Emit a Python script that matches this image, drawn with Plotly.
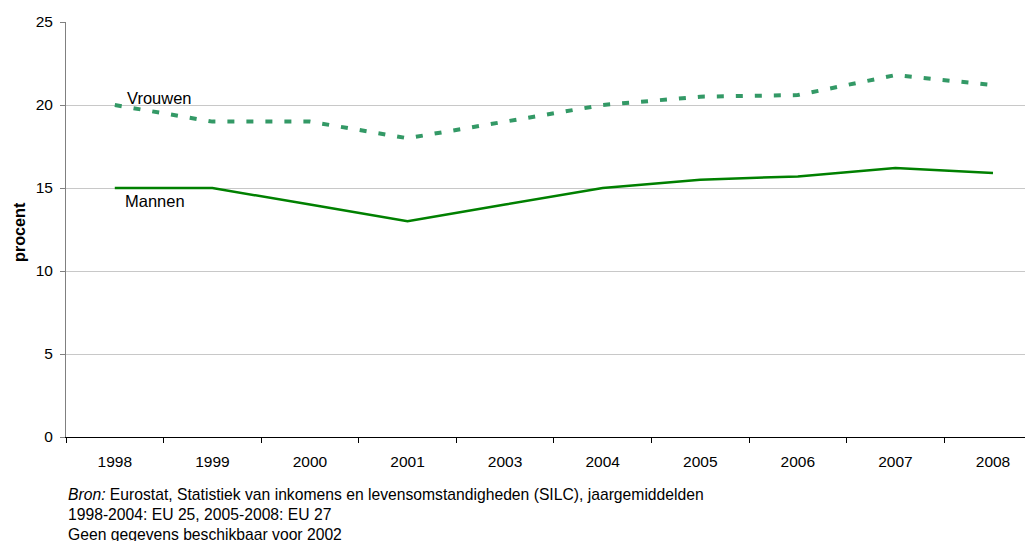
import plotly.graph_objects as go

years = ["1998", "1999", "2000", "2001", "2003", "2004", "2005", "2006", "2007", "2008"]
vrouwen = [20.0, 19.0, 19.0, 18.0, 19.0, 20.0, 20.5, 20.6, 21.8, 21.2]
mannen = [15.0, 15.0, 14.0, 13.0, 14.0, 15.0, 15.5, 15.7, 16.2, 15.9]
y_ticks = [0, 5, 10, 15, 20, 25]

FONT = "Liberation Sans, Arial, sans-serif"

fig = go.Figure()
fig.add_trace(go.Scatter(
    x=years, y=vrouwen, mode="lines", name="Vrouwen",
    line=dict(color="#339966", width=4, dash="7px,12px"),
))
fig.add_trace(go.Scatter(
    x=years, y=mannen, mode="lines", name="Mannen",
    line=dict(color="#008000", width=2.5),
))

fig.add_annotation(x=0, y=20.45, text="Vrouwen", showarrow=False,
                   xanchor="left", xshift=10, font=dict(size=16.5, color="black", family=FONT))
fig.add_annotation(x=0, y=14.2, text="Mannen", showarrow=False,
                   xanchor="left", xshift=8, font=dict(size=16.5, color="black", family=FONT))

# y-axis title
fig.add_annotation(x=0, xref="paper", y=(437 - 232) / 415, yref="paper", text="<b>procent</b>",
                   showarrow=False, textangle=-90, xanchor="center", yanchor="middle", xshift=-47,
                   font=dict(size=16.2, color="black", family=FONT))

footer = [
    ("<i>Bron:</i> Eurostat, Statistiek van inkomens en levensomstandigheden (SILC), jaargemiddelden", 494),
    ("1998-2004: EU 25, 2005-2008: EU 27", 514),
    ("Geen gegevens beschikbaar voor 2002", 534),
]
for txt, py in footer:
    fig.add_annotation(x=0, xref="paper", y=(437 - py) / 415, yref="paper", text=txt,
                       showarrow=False, xanchor="left", yanchor="middle", xshift=0,
                       font=dict(size=15.7, color="black", family=FONT))

fig.update_layout(
    width=1025, height=533,
    margin=dict(l=58, r=0, t=14, b=104),
    paper_bgcolor="white", plot_bgcolor="white",
    showlegend=False,
    font=dict(family=FONT, color="black", size=15),
    xaxis=dict(
        type="category", range=[-0.5, 9.41],
        showgrid=False, showline=True, linecolor="black", linewidth=1,
        ticks="outside", tickson="boundaries", ticklen=5, tickcolor="black",
        tickfont=dict(size=15.5), ticklabelstandoff=10, fixedrange=True,
    ),
    yaxis=dict(
        range=[0, 25], tickvals=y_ticks,
        showgrid=True, gridcolor="#c8c8c8", gridwidth=1,
        showline=True, linecolor="#808080", linewidth=1,
        ticks="outside", ticklen=5, tickcolor="#808080",
        tickfont=dict(size=15.5), ticklabelstandoff=4, zeroline=False,
    ),
)

fig.write_html("out.html")
